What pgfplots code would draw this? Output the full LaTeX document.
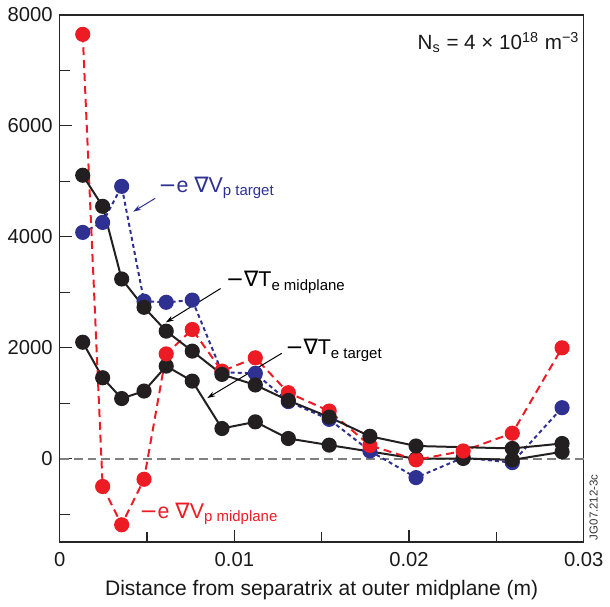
\documentclass[border=0pt]{standalone}
\usepackage{fontspec}
\setmainfont{Liberation Sans}
\newfontfamily\dejavu{DejaVu Sans}
\usepackage{pgfplots}
\pgfplotsset{compat=1.18}
\usetikzlibrary{arrows.meta}

\definecolor{vred}{HTML}{ED1C24}
\definecolor{vblue}{HTML}{2E3192}
\definecolor{vblack}{HTML}{231F20}

\begin{document}
\begin{tikzpicture}
\path (-30bp,-28bp) rectangle (275bp,272.5bp);
\begin{axis}[
  width=263.5bp, height=265bp, scale only axis,
  xmin=0, xmax=0.03, ymin=-1500, ymax=8000,
  clip=false,
  scaled x ticks=false, scaled y ticks=false,
  axis line style={black!85, line width=0.6bp},
  tick style={black!85, line width=0.6bp},
  tick align=inside, xtick pos=bottom, ytick pos=left,
  major tick length=6bp, minor tick length=5bp,
  xtick={0,0.01,0.02,0.03}, xticklabels={0,0.01,0.02,0.03},
  minor xtick={0.005,0.015,0.025},
  ytick={0,2000,4000,6000,8000}, yticklabels={0,2000,4000,6000,8000},
  minor ytick={-1000,1000,3000,5000,7000},
  ticklabel style={font=\fontsize{10.2}{12}\selectfont, text=black!90},
  xticklabel style={yshift=-1.5bp},
  xlabel={Distance from separatrix at outer midplane (m)},
  xlabel style={font=\fontsize{10.6}{12}\selectfont, text=black!90},
  every axis plot/.append style={line width=1bp},
]
\addplot[gray, dash pattern=on 4.5bp off 2.5bp, line width=0.8bp] coordinates {(0,0)(0.03,0)};

% -e grad Vp target
\addplot[vblue, dash pattern=on 2bp off 1.6bp, mark=*, mark size=3.3bp, mark options={solid, fill=vblue, draw=vblue}] coordinates {
(0.00132,4080)(0.00246,4260)(0.00355,4910)(0.00483,2840)(0.00610,2820)
(0.00759,2860)(0.00929,1560)(0.01120,1540)(0.01309,1030)(0.01543,710)
(0.01776,140)(0.02040,-340)(0.02310,20)(0.02591,-70)(0.02876,920)};

% -grad Te target
\addplot[vblack, mark=*, mark size=3.3bp, mark options={fill=vblack, draw=vblack}] coordinates {
(0.00132,2100)(0.00246,1460)(0.00355,1085)(0.00483,1220)(0.00610,1670)
(0.00759,1400)(0.00929,545)(0.01120,665)(0.01309,365)(0.01543,246)
(0.02040,0)(0.02310,5)(0.02591,-20)(0.02876,125)};

% -e grad Vp midplane
\addplot[vred, dash pattern=on 4bp off 2.5bp, mark=*, mark size=3.3bp, mark options={solid, fill=vred, draw=vred}] coordinates {
(0.00132,7650)(0.00246,-500)(0.00355,-1190)(0.00483,-370)(0.00610,1890)
(0.00759,2330)(0.00929,1580)(0.01120,1820)(0.01309,1190)(0.01543,860)
(0.01776,240)(0.02040,-20)(0.02310,140)(0.02591,460)(0.02876,2000)};

% -grad Te midplane
\addplot[vblack, mark=*, mark size=3.3bp, mark options={fill=vblack, draw=vblack}] coordinates {
(0.00132,5110)(0.00246,4550)(0.00355,3240)(0.00483,2730)(0.00610,2300)
(0.00759,1940)(0.00929,1520)(0.01120,1330)(0.01309,1050)(0.01543,750)
(0.01776,405)(0.02040,230)(0.02591,186)(0.02876,275)};

% annotations
\node[anchor=base west, inner sep=0, text=vblue, font=\fontsize{10.8}{12}\selectfont]
  at (axis cs:0.00564,4803) {{\dejavu −}e {\dejavu ∇}V\textsubscript{p target}};
\draw[vblue, line width=0.5bp, -{Stealth[length=4bp,width=2.6bp]}]
  (axis cs:0.00547,4695) -- (axis cs:0.00421,4454);

\node[anchor=base west, inner sep=0, text=black, font=\fontsize{10.8}{12}\selectfont]
  at (axis cs:0.00951,3098) {{\dejavu −∇}T\textsubscript{e midplane}};
\draw[black, line width=0.5bp, -{Stealth[length=4bp,width=2.6bp]}]
  (axis cs:0.00921,3068) -- (axis cs:0.00608,2458);

\node[anchor=base west, inner sep=0, text=black, font=\fontsize{10.8}{12}\selectfont]
  at (axis cs:0.01291,1871) {{\dejavu −∇}T\textsubscript{e target}};
\draw[black, line width=0.5bp, -{Stealth[length=4bp,width=2.6bp]}]
  (axis cs:0.01272,1902) -- (axis cs:0.00845,1094);

\node[anchor=base west, inner sep=0, text=vred, font=\fontsize{10.8}{12}\selectfont]
  at (axis cs:0.00456,-1071) {{\dejavu −}e {\dejavu ∇}V\textsubscript{p midplane}};

\node[anchor=base east, inner sep=0, text=black!90, font=\fontsize{10.4}{12}\selectfont]
  at (axis cs:0.02978,7373) {N\textsubscript{s} = 4 × 10\textsuperscript{18} m\textsuperscript{−3}};
\end{axis}
\node[rotate=90, inner sep=0, text=black!80, font=\fontsize{5.8}{7}\selectfont] at (268.5bp,17.5bp) {JG07.212-3c};
\end{tikzpicture}
\end{document}
